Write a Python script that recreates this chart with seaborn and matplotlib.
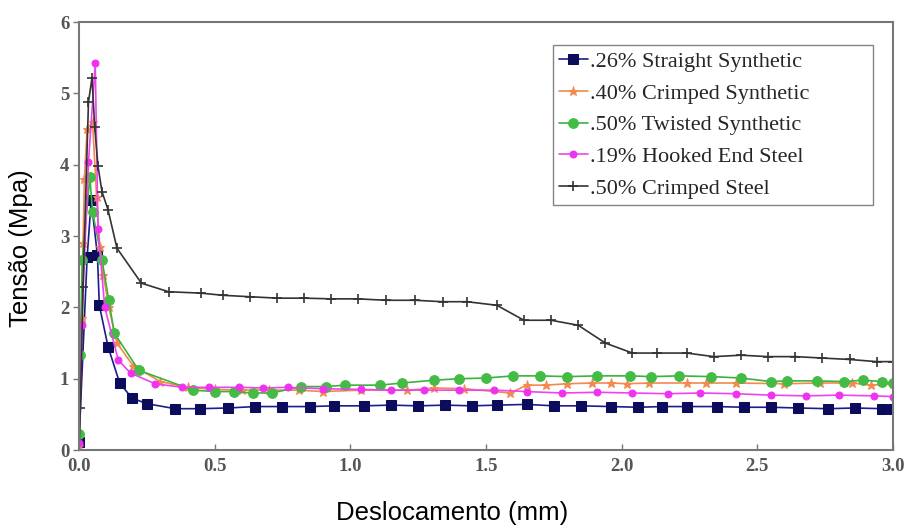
import matplotlib
matplotlib.use("Agg")
import matplotlib.pyplot as plt
import seaborn as sns
import pandas as pd

# ---- data ----
series_names = [".26% Straight Synthetic", ".40% Crimped Synthetic", ".50% Twisted Synthetic",
                ".19% Hooked End Steel", ".50% Crimped Steel"]

blue_x = [0.0, 0.03, 0.045, 0.068, 0.075, 0.107, 0.15, 0.195, 0.25, 0.355, 0.445, 0.55, 0.65, 0.75, 0.85,
          0.94, 1.05, 1.15, 1.25, 1.35, 1.45, 1.54, 1.65, 1.75, 1.85, 1.96, 2.06, 2.15, 2.24, 2.35, 2.45,
          2.55, 2.65, 2.76, 2.86, 2.96, 3.0]
blue_y = [0.11, 2.7, 3.5, 2.73, 2.03, 1.45, 0.94, 0.73, 0.65, 0.58, 0.58, 0.59, 0.61, 0.61, 0.61,
          0.62, 0.62, 0.63, 0.62, 0.63, 0.62, 0.63, 0.64, 0.62, 0.62, 0.61, 0.60, 0.61, 0.61, 0.61, 0.60,
          0.60, 0.59, 0.58, 0.59, 0.58, 0.58]

orange_x = [0.0, 0.01, 0.015, 0.02, 0.03, 0.05, 0.065, 0.077, 0.09, 0.11, 0.14, 0.2, 0.3, 0.4, 0.5, 0.6,
            0.7, 0.81, 0.9, 1.04, 1.21, 1.31, 1.42, 1.59, 1.65, 1.72, 1.8, 1.89, 1.96, 2.02, 2.1, 2.24,
            2.31, 2.42, 2.6, 2.73, 2.85, 2.92, 3.0]
orange_y = [0.05, 1.85, 2.9, 3.8, 4.5, 4.6, 3.55, 2.85, 2.45, 2.0, 1.5, 1.18, 0.96, 0.88, 0.85, 0.84,
            0.84, 0.84, 0.82, 0.84, 0.84, 0.87, 0.86, 0.80, 0.91, 0.91, 0.93, 0.94, 0.94, 0.93, 0.94, 0.94,
            0.94, 0.94, 0.93, 0.94, 0.94, 0.91, 0.93]

green_x = [0.0, 0.004, 0.012, 0.04, 0.05, 0.085, 0.11, 0.13, 0.22, 0.42, 0.5, 0.57, 0.64, 0.71, 0.82,
           0.91, 0.98, 1.11, 1.19, 1.31, 1.4, 1.5, 1.6, 1.7, 1.8, 1.91, 2.03, 2.11, 2.21, 2.33, 2.44,
           2.55, 2.61, 2.72, 2.82, 2.89, 2.96, 3.0]
green_y = [0.22, 1.33, 2.66, 3.83, 3.34, 2.66, 2.1, 1.64, 1.12, 0.84, 0.82, 0.82, 0.80, 0.80, 0.89,
           0.89, 0.91, 0.91, 0.94, 0.98, 1.0, 1.01, 1.04, 1.04, 1.03, 1.04, 1.04, 1.03, 1.04, 1.03, 1.01,
           0.96, 0.97, 0.97, 0.96, 0.98, 0.96, 0.94]

pink_x = [0.0, 0.01, 0.035, 0.06, 0.07, 0.095, 0.145, 0.19, 0.28, 0.38, 0.48, 0.59, 0.68, 0.77, 0.9,
          1.04, 1.15, 1.27, 1.40, 1.53, 1.65, 1.78, 1.91, 2.04, 2.17, 2.29, 2.42, 2.55, 2.68, 2.80, 2.93, 3.0]
pink_y = [0.1, 1.75, 4.04, 5.42, 3.1, 2.0, 1.26, 1.08, 0.93, 0.88, 0.88, 0.88, 0.87, 0.88, 0.86,
          0.85, 0.84, 0.84, 0.84, 0.84, 0.82, 0.80, 0.81, 0.80, 0.79, 0.80, 0.79, 0.77, 0.76, 0.77, 0.76, 0.75]

black_x = [0.0, 0.005, 0.015, 0.035, 0.048, 0.058, 0.07, 0.085, 0.107, 0.14, 0.23, 0.33, 0.45, 0.53,
           0.63, 0.73, 0.83, 0.93, 1.03, 1.13, 1.24, 1.34, 1.43, 1.54, 1.64, 1.74, 1.84, 1.94, 2.04,
           2.13, 2.24, 2.34, 2.44, 2.54, 2.64, 2.74, 2.84, 2.94, 3.0]
black_y = [0.0, 0.59, 2.29, 4.88, 5.22, 4.53, 3.98, 3.62, 3.37, 2.83, 2.34, 2.22, 2.2, 2.17,
           2.15, 2.13, 2.13, 2.12, 2.12, 2.1, 2.1, 2.08, 2.08, 2.03, 1.82, 1.82, 1.75, 1.5, 1.36,
           1.36, 1.36, 1.31, 1.33, 1.31, 1.31, 1.29, 1.27, 1.24, 1.24]

x_ticks = [0.0, 0.5, 1.0, 1.5, 2.0, 2.5, 3.0]
y_ticks = [0, 1, 2, 3, 4, 5, 6]

# ---- style ----
sns.set_style("white")
plt.rcParams['font.family'] = ['Liberation Sans', 'DejaVu Sans']

fig = plt.figure(figsize=(9.12, 5.27), dpi=100)
ax = fig.add_axes([0.0866, 0.146, 0.8925, 0.812])

styles = [
    dict(color="#1c1c8c", marker="s", markersize=7, markerfacecolor="#0c0c5c", markeredgecolor="#0c0c5c"),
    dict(color="#f4894e", marker="*", markersize=6.5, markerfacecolor="#f4894e", markeredgecolor="#f4894e"),
    dict(color="#3bb33b", marker="o", markersize=7, markerfacecolor="#44bb44", markeredgecolor="#44bb44"),
    dict(color="#ee44ee", marker="o", markersize=5, markerfacecolor="#ee33ee", markeredgecolor="#ee33ee"),
    dict(color="#333333", marker="+", markersize=6.5, markerfacecolor="#333333", markeredgecolor="#333333",
         markeredgewidth=1.2),
]
data = [(blue_x, blue_y), (orange_x, orange_y), (green_x, green_y), (pink_x, pink_y), (black_x, black_y)]

for name, (xs, ys), st in zip(series_names, data, styles):
    df = pd.DataFrame({"x": xs, "y": ys})
    sns.lineplot(data=df, x="x", y="y", ax=ax, label=name, linewidth=1.2, sort=False,
                 estimator=None, **st)

ax.set_xlim(0, 3.0)
ax.set_ylim(0, 6)
ax.set_xticks(x_ticks)
ax.set_xticklabels([f"{v:.1f}" for v in x_ticks])
ax.set_yticks(y_ticks)
ax.set_yticklabels([str(v) for v in y_ticks])

for lab in ax.get_xticklabels() + ax.get_yticklabels():
    lab.set_fontfamily(['Liberation Serif', 'DejaVu Serif'])
    lab.set_fontweight('bold')
    lab.set_fontsize(13.5)
    lab.set_color('#555555')

ax.tick_params(axis='x', direction='in', length=4, width=1, color='#777777', pad=6)
ax.tick_params(axis='y', direction='out', length=4, width=1, color='#777777', pad=3)
ax.tick_params(bottom=True, left=True)

for sp in ax.spines.values():
    sp.set_visible(True)
    sp.set_color('#777777')
    sp.set_linewidth(1.5)

ax.set_xlabel("Deslocamento (mm)", fontsize=18.5, color='black')
ax.set_ylabel("Tensão (Mpa)", fontsize=18.5, color='black')
ax.xaxis.set_label_coords(0.458, -0.118)
ax.yaxis.set_label_coords(-0.056, 0.472)

leg = ax.legend(loc='upper left', bbox_to_anchor=(0.582, 0.572, 0.393, 0.374), mode='expand',
                prop={'family': ['Liberation Serif', 'DejaVu Serif'], 'size': 16},
                frameon=True, fancybox=False, shadow=False, handlelength=1.3, handletextpad=0.1,
                borderpad=0.28, labelspacing=0.5, borderaxespad=0)
leg.get_frame().set_edgecolor('#666666')
leg.get_frame().set_linewidth(1.0)

fig.savefig("out.png", dpi=100)
